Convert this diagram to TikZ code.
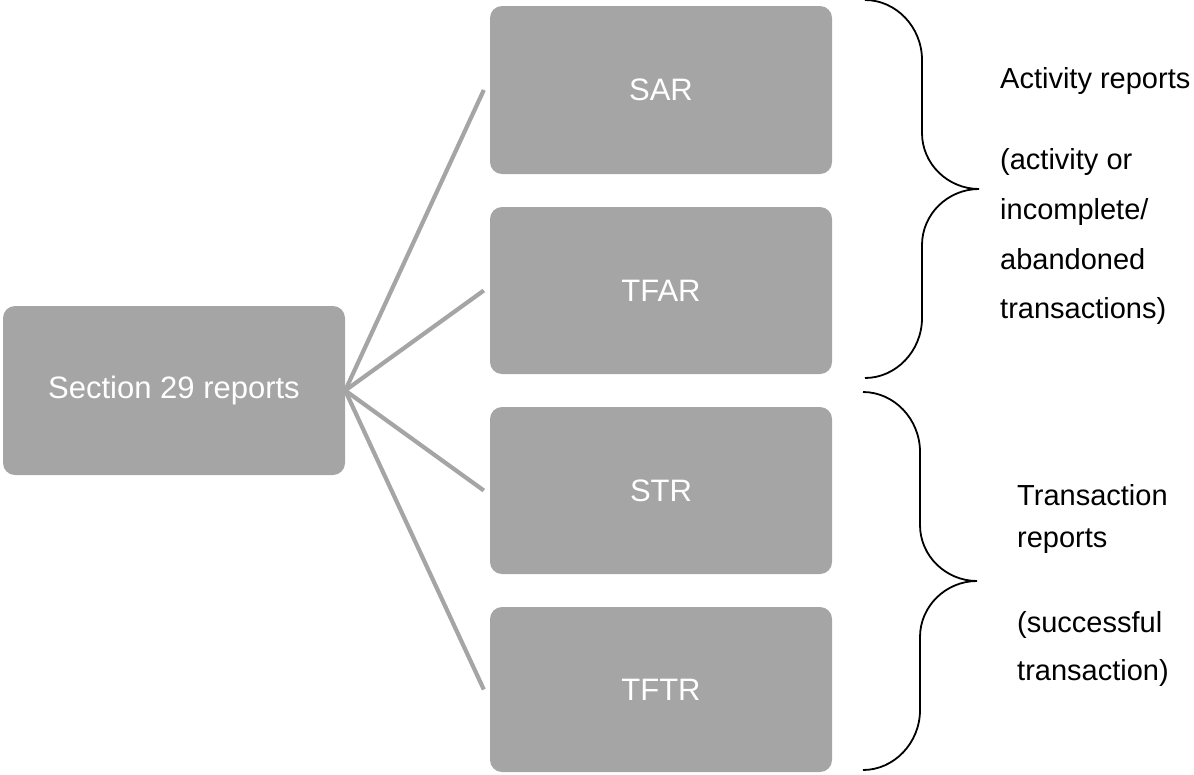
\documentclass[tikz,border=0pt]{standalone}
\usepackage{fontspec}
\setmainfont{Liberation Sans}
\definecolor{boxgray}{RGB}{165,165,165}
\begin{document}
\begin{tikzpicture}[x=1pt,y=-1pt,
  report/.style={fill=boxgray, rounded corners=12pt, text=white,
    font=\fontsize{31}{37}\selectfont, inner sep=0pt,
    minimum width=342pt, minimum height=168pt},
  link/.style={draw=boxgray, line width=4.2pt},
  brace/.style={draw=black, line width=1.8pt},
  note/.style={anchor=base west, inner sep=0pt, font=\fontsize{29}{35}\selectfont}]
\useasboundingbox (0,0) rectangle (1194,774);

% report boxes
\node[report, minimum height=169pt] (sec) at (174,390.5) {Section 29 reports};
\node[report] (sar)  at (661,90)    {SAR};
\node[report, minimum height=167pt] (tfar) at (661,290.5) {TFAR};
\node[report, minimum height=167pt] (str)  at (661,490.5) {STR};
\node[report, minimum height=165pt] (tftr) at (661,689.5) {TFTR};

% fan of connectors
\foreach \t in {sar,tfar,str,tftr}
  \draw[link] (sec.east) -- ([xshift=-6pt]\t.west);

% curly braces
\draw[brace] (865,0) .. controls (896,0) and (922,27) .. (922,60) -- (922,133)
  .. controls (922,164) and (948,189) .. (979,189)
  .. controls (948,189) and (922,214) .. (922,245) -- (922,318)
  .. controls (922,351) and (896,378) .. (865,378);
\draw[brace] (863,392) .. controls (894,392) and (920,419) .. (920,452) -- (920,525)
  .. controls (920,556) and (946,581) .. (977,581)
  .. controls (946,581) and (920,606) .. (920,637) -- (920,710)
  .. controls (920,743) and (894,770) .. (863,770);

% notes
\node[note] (a1) at (1000,88)  {Activity reports};
\node[note] (a2) at (1000,169) {(activity or};
\node[note] (a3) at (1000,219) {incomplete/};
\node[note] (a4) at (1000,269) {abandoned};
\node[note] (a5) at (1000,318) {transactions)};
\node[note] (t1) at (1017,505) {Transaction};
\node[note] (t2) at (1017,547) {reports};
\node[note] (t3) at (1017,632) {(successful};
\node[note] (t4) at (1017,680) {transaction)};
\end{tikzpicture}
\end{document}
